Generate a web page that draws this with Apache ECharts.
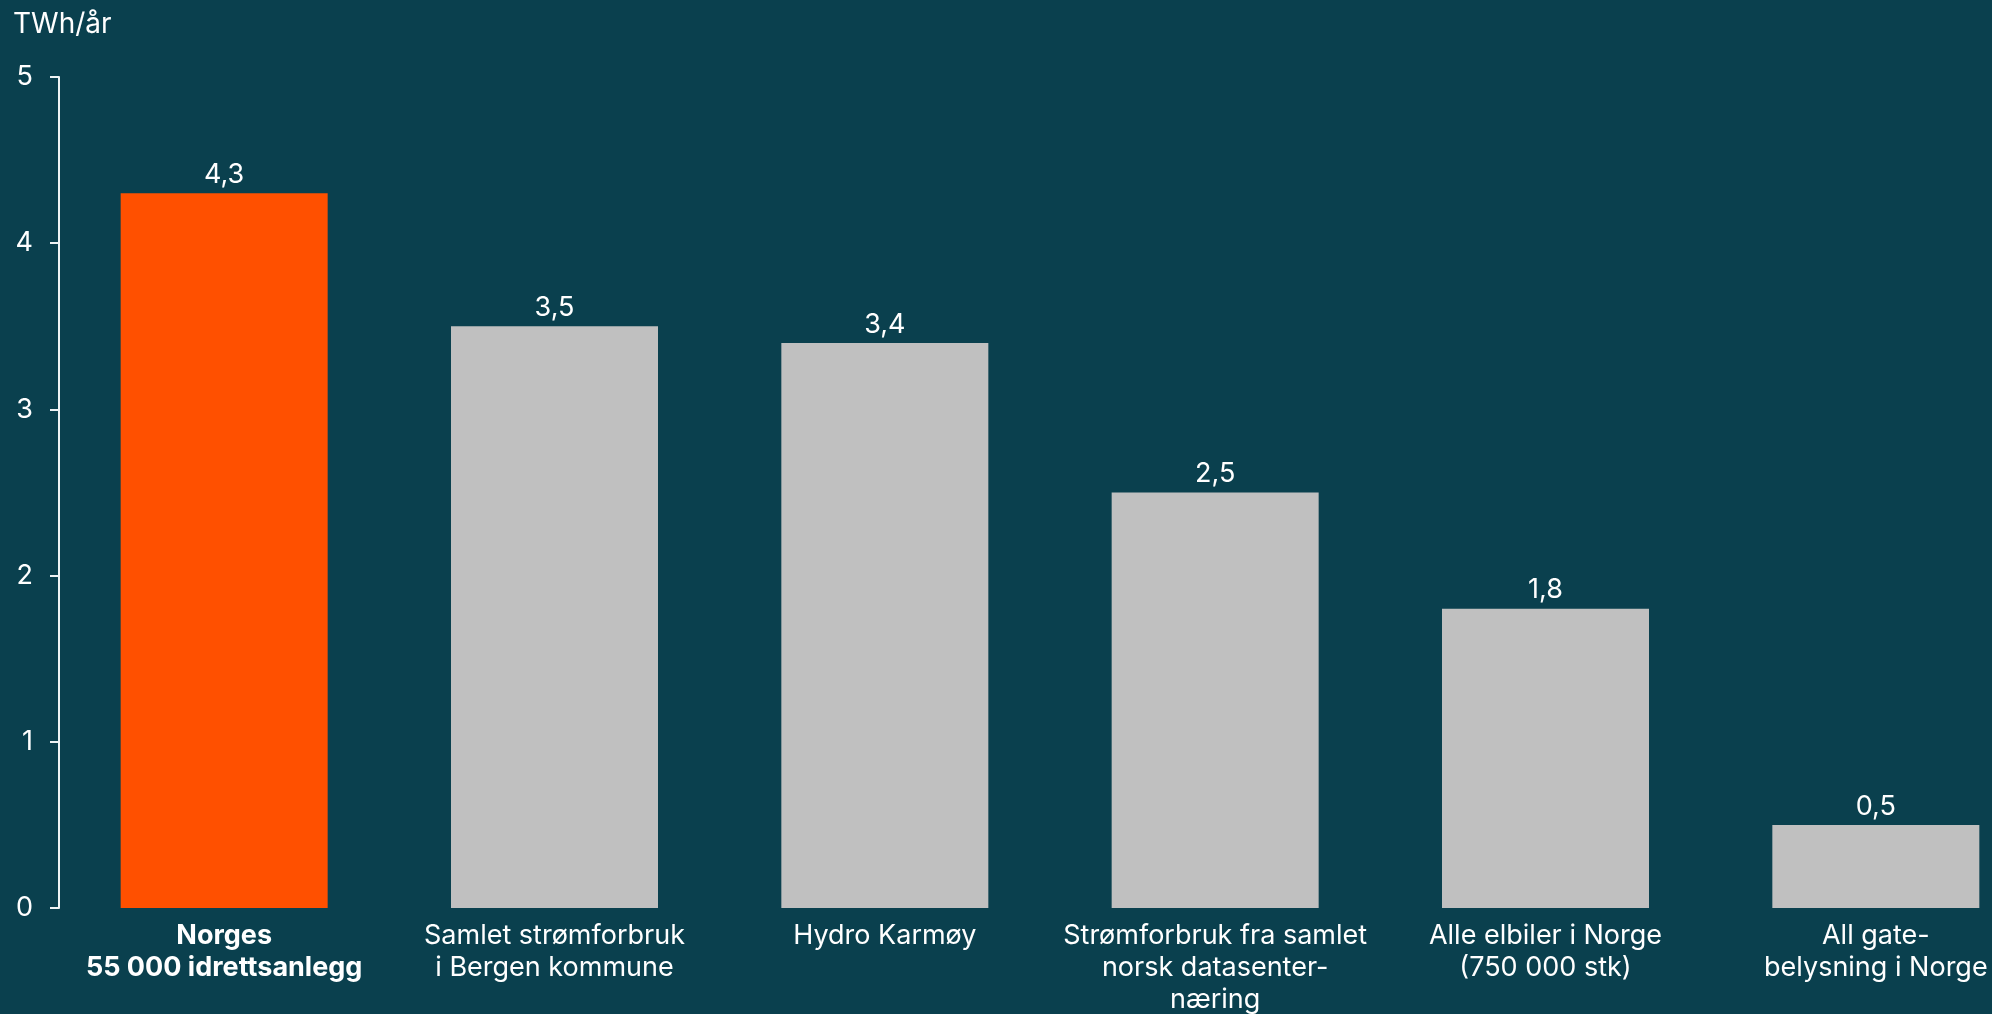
<!DOCTYPE html>
<html>
<head>
<meta charset="utf-8">
<script src="https://cdn.jsdelivr.net/npm/echarts@6/dist/echarts.min.js"></script>
<style>
  html, body { margin: 0; padding: 0; background: #0a404e; }
  #chart { width: 1992px; height: 1014px; }
</style>
</head>
<body>
<div id="chart"></div>
<script>
// Årlig strømforbruk, TWh/år
const categories = [
  'Norges\n55 000 idrettsanlegg',
  'Samlet strømforbruk\ni Bergen kommune',
  'Hydro Karmøy',
  'Strømforbruk fra samlet\nnorsk datasenter-\nnæring',
  'Alle elbiler i Norge\n(750 000 stk)',
  'All gate-\nbelysning i Norge'
];
const values = [4.3, 3.5, 3.4, 2.5, 1.8, 0.5];
const highlighted = [true, false, false, false, false, false];
const yTicks = [0, 1, 2, 3, 4, 5];

const FONT = 'Inter, "Liberation Sans", Arial, sans-serif';
const TEXT = '#ffffff';
const ORANGE = '#ff5000';
const GREY = '#c0c0c0';

const chart = echarts.init(document.getElementById('chart'));
chart.setOption({
  backgroundColor: '#0a404e',
  animation: false,
  title: {
    text: 'TWh/år',
    left: 13,
    top: 11,
    padding: 0,
    textStyle: { color: TEXT, fontFamily: FONT, fontSize: 28, fontWeight: 'normal' }
  },
  // the last category band runs past the right edge of the canvas
  grid: { left: 59, top: 77, bottom: 106, width: 1982, outerBoundsMode: 'none', containLabel: false },
  xAxis: {
    type: 'category',
    data: categories.map((c, i) => ({
      value: c,
      textStyle: { fontWeight: highlighted[i] ? 'bold' : 'normal' }
    })),
    axisLine: { show: false },
    axisTick: { show: false },
    axisLabel: {
      interval: 0,
      margin: 12,
      color: TEXT,
      fontFamily: FONT,
      fontSize: 27,
      lineHeight: 32,
      align: 'center',
      hideOverlap: false
    }
  },
  yAxis: {
    type: 'value',
    min: yTicks[0],
    max: yTicks[yTicks.length - 1],
    interval: 1,
    splitLine: { show: false },
    axisLine: { show: true, lineStyle: { color: '#eef3f4', width: 2 } },
    axisTick: { show: true, length: 9, lineStyle: { color: '#eef3f4', width: 2 } },
    axisLabel: {
      margin: 26,
      color: TEXT,
      fontFamily: FONT,
      fontSize: 27
    }
  },
  series: [{
    type: 'bar',
    barWidth: 207,
    data: values.map((v, i) => ({
      value: v,
      itemStyle: { color: highlighted[i] ? ORANGE : GREY }
    })),
    label: {
      show: true,
      position: 'top',
      distance: 5,
      color: TEXT,
      fontFamily: FONT,
      fontSize: 27,
      formatter: p => String(p.value).replace('.', ',')
    }
  }]
});
</script>
</body>
</html>
